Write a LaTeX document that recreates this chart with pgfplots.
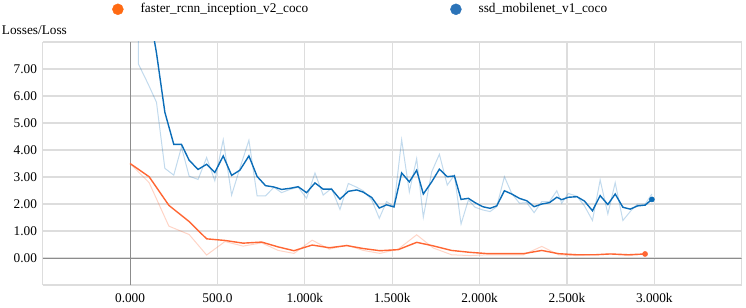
\documentclass[border=0pt]{standalone}
\usepackage{pgfplots}
\pgfplotsset{compat=1.18}
\usepackage{fontspec}
\setmainfont{Liberation Serif}
\definecolor{orline}{HTML}{FF6633}
\definecolor{ordot}{HTML}{FF6A13}
\definecolor{blline}{HTML}{0B6DB8}
\definecolor{bldot}{HTML}{2B73B8}
\definecolor{gridc}{HTML}{DDDDDD}
\definecolor{zeroc}{HTML}{8C8C8C}
\begin{document}
\begin{tikzpicture}[x=1bp,y=1bp]
\fontsize{13.3bp}{16bp}\selectfont
\path[use as bounding box] (0,0) rectangle (746,307);
\begin{axis}[
  at={(42.7bp,22bp)}, anchor=south west,
  scale only axis, width=699bp, height=243bp,
  xmin=-500, xmax=3500, ymin=-1, ymax=8,
  xtick={-500,0,500,1000,1500,2000,2500,3000,3500},
  xticklabels={,0.000,500.0,1.000k,1.500k,2.000k,2.500k,3.000k,},
  ytick={-1,0,1,2,3,4,5,6,7,8},
  yticklabels={,0.00,1.00,2.00,3.00,4.00,5.00,6.00,7.00,},
  /pgf/number format/assume math mode=true,
  major tick length=0pt,
  axis line style={draw=none},
  grid=major,
  major grid style={draw=gridc, line width=1.1bp},
  tick label style={font=\fontsize{13.3bp}{16bp}\selectfont},
  yticklabel style={anchor=east, inner sep=0pt, xshift=-5.5bp},
  xticklabel style={anchor=base, inner sep=0pt, yshift=-17.3bp},
  legend columns=2,
  legend style={at={(0.0991,1.1346)}, anchor=west, draw=none, fill=none,
    inner sep=0pt, font=\fontsize{13.3bp}{16bp}\selectfont,
    /tikz/every odd column/.append style={column sep=15bp},
    /tikz/every even column/.append style={column sep=140bp}},
]
\addlegendimage{legend image code/.code={\fill[ordot] (5.5bp,0bp) circle (5.5bp);}}
\addlegendentry{faster\_rcnn\_inception\_v2\_coco}
\addlegendimage{legend image code/.code={\fill[bldot] (5.5bp,0bp) circle (5.5bp);}}
\addlegendentry{ssd\_mobilenet\_v1\_coco}

\draw[zeroc, line width=1bp] (axis cs:0,-1) -- (axis cs:0,8);
\draw[zeroc, line width=1bp] (axis cs:-500,0) -- (axis cs:3500,0);

% orange raw
\addplot[forget plot, orline, opacity=0.28, line width=1bp] coordinates {
(0,3.50) (109,2.79) (222,1.18) (338,0.87) (438,0.11) (543,0.61) (647,0.44) (753,0.56)
(848,0.28) (938,0.17) (1042,0.66) (1140,0.33) (1240,0.48) (1335,0.28) (1430,0.17) (1535,0.33)
(1640,0.86) (1735,0.37) (1840,0.12) (1945,0.09) (2050,0.12) (2146,0.12) (2251,0.12) (2356,0.43)
(2452,0.12) (2557,0.09) (2662,0.12) (2748,0.15) (2853,0.09) (2947,0.15)};
% blue raw
\addplot[forget plot, blline, opacity=0.25, line width=1bp] coordinates {
(40,20) (48,7.18) (103,6.45) (151,5.77) (199,3.32) (250,3.07) (294,4.11) (338,3.03)
(389,2.91) (438,3.72) (485,2.86) (533,4.38) (581,2.33) (628,3.32) (680,4.36) (727,2.30)
(775,2.30) (823,2.62) (867,2.42) (915,2.54) (962,2.62) (1010,2.21) (1058,3.15) (1105,2.33)
(1153,2.58) (1201,1.80) (1249,2.76) (1297,2.62) (1334,2.49) (1383,2.15) (1426,1.47) (1468,2.09)
(1510,1.90) (1554,4.38) (1598,2.45) (1640,3.68) (1678,1.51) (1726,3.19) (1770,3.84) (1815,2.70)
(1856,3.07) (1894,1.26) (1936,2.15) (1974,1.88) (2018,1.78) (2060,1.72) (2098,1.90) (2142,3.01)
(2184,2.39) (2228,2.03) (2270,2.05) (2312,1.68) (2356,2.09) (2400,2.09) (2442,2.49) (2470,2.03)
(2508,2.39) (2557,2.29) (2600,1.93) (2646,1.39) (2690,2.89) (2734,1.63) (2776,2.79) (2820,1.39)
(2862,1.72) (2904,2.00) (2948,2.00) (2986,2.37)};
% orange smoothed
\addplot[forget plot, orline, line width=1.4bp] coordinates {
(0,3.50) (109,3.01) (222,1.95) (338,1.35) (438,0.71) (543,0.65) (647,0.55) (753,0.59)
(848,0.41) (938,0.27) (1042,0.48) (1140,0.38) (1240,0.46) (1335,0.35) (1430,0.27) (1535,0.31)
(1640,0.58) (1735,0.45) (1840,0.28) (1945,0.21) (2050,0.16) (2146,0.16) (2251,0.16) (2356,0.28)
(2452,0.16) (2557,0.12) (2662,0.12) (2748,0.15) (2853,0.12) (2947,0.15)};
% blue smoothed
\addplot[forget plot, blline, line width=1.4bp] coordinates {
(40,20) (48,14.9) (103,9.4) (151,7.6) (199,5.40) (250,4.21) (294,4.21) (338,3.62)
(389,3.28) (438,3.47) (485,3.17) (533,3.78) (581,3.06) (628,3.25) (680,3.78) (727,3.02)
(775,2.68) (823,2.63) (867,2.54) (915,2.58) (962,2.64) (1010,2.42) (1058,2.78) (1105,2.55)
(1153,2.55) (1201,2.18) (1249,2.47) (1297,2.52) (1334,2.44) (1383,2.24) (1426,1.85) (1468,1.97)
(1510,1.89) (1554,3.15) (1598,2.82) (1640,3.25) (1678,2.37) (1726,2.82) (1770,3.29) (1815,3.01)
(1856,3.04) (1894,2.17) (1936,2.21) (1974,2.05) (2018,1.90) (2060,1.84) (2098,1.93) (2142,2.49)
(2184,2.37) (2228,2.21) (2270,2.12) (2312,1.90) (2356,2.00) (2400,2.05) (2442,2.25) (2470,2.16)
(2508,2.25) (2557,2.27) (2600,2.11) (2646,1.75) (2690,2.31) (2734,1.98) (2776,2.37) (2820,1.88)
(2862,1.81) (2904,1.93) (2948,1.96) (2986,2.17)};
% end dots
\addplot[forget plot, only marks, mark=*, mark size=2.6bp, mark options={fill=orline, draw=orline}] coordinates {(2947,0.15)};
\addplot[forget plot, only marks, mark=*, mark size=2.6bp, mark options={fill=blline, draw=blline}] coordinates {(2986,2.17)};
\end{axis}
\node[anchor=west, inner sep=0pt] at (1.7,277) {Losses/Loss};
\end{tikzpicture}
\end{document}
